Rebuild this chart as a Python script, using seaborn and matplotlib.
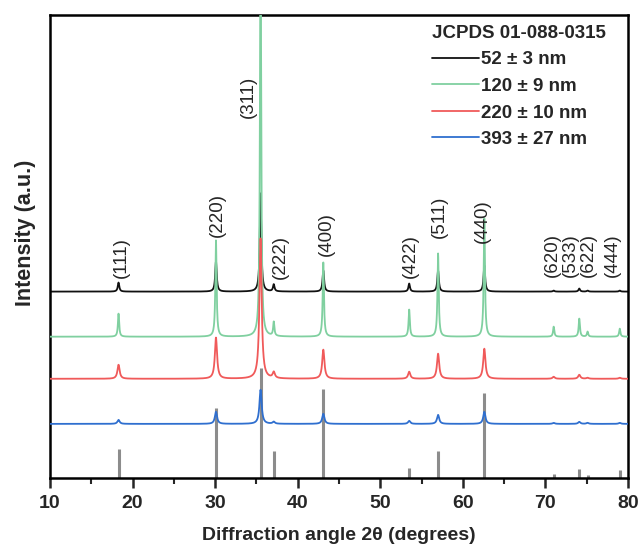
import numpy as np
import pandas as pd
import matplotlib
matplotlib.use('Agg')
import matplotlib.pyplot as plt
import seaborn as sns

# Reflection positions (2theta, degrees) and hkl labels
hkl = ['(111)', '(220)', '(311)', '(222)', '(400)', '(422)', '(511)', '(440)',
       '(620)', '(533)', '(622)', '(444)']
two_theta = [18.3, 30.1, 35.5, 37.1, 43.1, 53.5, 57.0, 62.6, 71.0, 74.1, 75.1, 79.0]

# JCPDS 01-088-0315 reference stick heights (a.u.)
ref_height = [29, 70, 110, 27, 89, 10, 27, 85, 4, 9, 3, 8]

# peak heights of each sample above its own baseline (a.u.)
peaks_52 = [9, 30, 98, 7, 21, 8, 21, 26, 1, 3, 1, 1]
peaks_120 = [23, 96, 400, 14, 74, 27, 83, 118, 10, 18, 5, 8]
peaks_220 = [14, 41, 140, 6, 29, 7, 25, 30, 2, 4, 1, 1]
peaks_393 = [4, 12, 34, 2, 10, 3, 9, 12, 1, 2, 1, 1]

# vertical offsets of the stacked patterns
offsets = [186, 141, 99, 54]
widths = [0.22, 0.18, 0.32, 0.32]
series_names = ['52 ± 3 nm', '120 ± 9 nm', '220 ± 10 nm', '393 ± 27 nm']
colors = ['#111111', '#80d0a0', '#f05a5a', '#2f6fcf']

# label anchor (x, bottom y) for the hkl annotations
label_x = [18.7, 30.3, 34.0, 37.9, 43.5, 53.7, 57.2, 62.4, 70.8, 73.0, 75.2, 78.1]
label_y = [200, 240, 359, 199, 222, 200, 239, 234, 201, 201, 201, 201]

x = np.linspace(10, 80, 3501)


def pattern(heights, w, base):
    y = np.full_like(x, float(base))
    for p, h in zip(two_theta, heights):
        y += h / (1 + ((x - p) / (w / 2)) ** 2)
    return y


frames = []
for name, hts, w, base in zip(series_names, [peaks_52, peaks_120, peaks_220, peaks_393], widths, offsets):
    frames.append(pd.DataFrame({'x': x, 'y': pattern(hts, w, base), 'sample': name}))
df = pd.concat(frames)

sns.set_style('ticks')
plt.rcParams['font.family'] = ['Liberation Sans', 'DejaVu Sans']

fig = plt.figure(figsize=(6.41, 5.46), dpi=100)
ax = fig.add_axes([50 / 641, 68 / 546, 578 / 641, 463 / 546])

ax.vlines(two_theta, 0, ref_height, color='#8c8c8c', lw=2.2, zorder=1)

# draw order: green, red, blue, then black on top
for i in [1, 2, 3, 0]:
    sub = df[df['sample'] == series_names[i]]
    sns.lineplot(data=sub, x='x', y='y', color=colors[i], lw=1.3, ax=ax,
                 estimator=None, sort=False, zorder=2 + i)

for lab, lx, ly in zip(hkl, label_x, label_y):
    ax.text(lx, ly, lab, rotation=90, ha='center', va='bottom', fontsize=13.5)

ax.set_xlim(10, 80)
ax.set_ylim(0, 462)
ax.set_xticks(range(10, 81, 10))
ax.set_xticks(range(15, 80, 10), minor=True)
ax.set_yticks([])
ax.tick_params(axis='x', which='major', direction='out', length=7, width=1.8,
               labelsize=14, pad=5)
ax.tick_params(axis='x', which='minor', direction='out', length=4, width=1.5)
for lbl in ax.get_xticklabels():
    lbl.set_fontweight('bold')
for sp in ax.spines.values():
    sp.set_linewidth(1.8)
    sp.set_color('black')

ax.set_xlabel('Diffraction angle 2θ (degrees)', fontsize=14, fontweight='bold', labelpad=11)
ax.set_ylabel('Intensity (a.u.)', fontsize=15.5, fontweight='bold')
ax.yaxis.set_label_coords(-0.025, 0.53)

handles = [plt.Line2D([], [], color=c, lw=1.3) for c in colors]
leg = ax.legend(handles, series_names, title='JCPDS 01-088-0315', loc='upper left',
                bbox_to_anchor=(432 / 641, 1 - 25 / 546), bbox_transform=fig.transFigure,
                frameon=False, alignment='left', handlelength=2.5, handletextpad=0.1,
                labelspacing=0.5, borderpad=0, borderaxespad=0,
                prop={'weight': 'bold', 'size': 13.5},
                title_fontproperties={'weight': 'bold', 'size': 13.5})

fig.savefig('out.png', dpi=100)
